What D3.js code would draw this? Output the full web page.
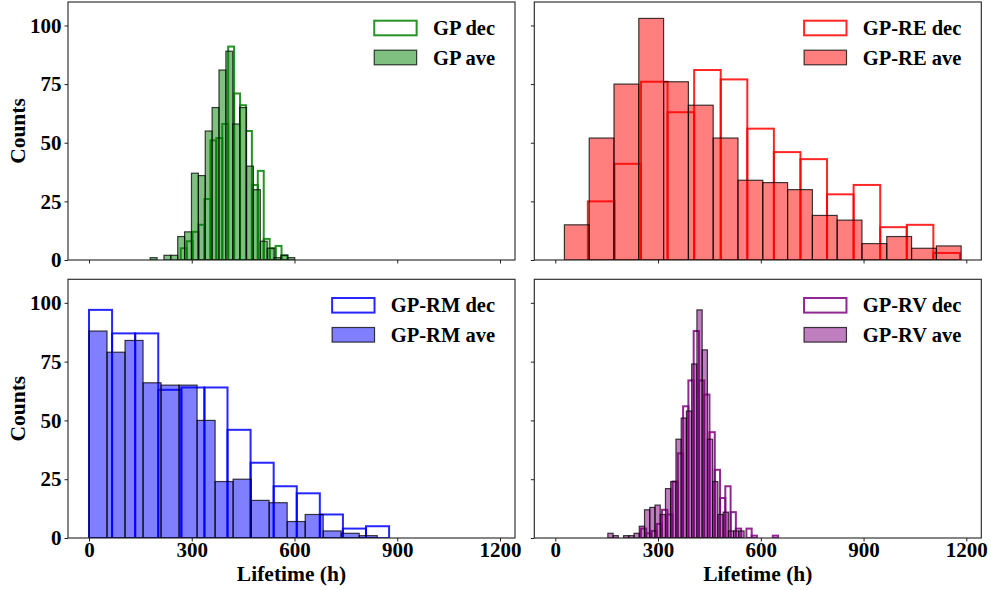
<!DOCTYPE html>
<html><head><meta charset="utf-8">
<script src="https://cdn.jsdelivr.net/npm/d3@7"></script>
<style>
body{margin:0;background:#fff}
svg{display:block}
text{font-family:"Liberation Serif","Times New Roman",serif;font-weight:bold;fill:#000}
</style>
</head><body>
<svg id="c" width="991" height="590"></svg>
<script>
// ---- data ----
const xTicks = [0, 300, 600, 900, 1200];
const yTicks = [0, 25, 50, 75, 100];
const xDomain = [-61.3, 1243.8];
const yDomain = [0, 110];

const gpDecCounts = [5, 8, 12, 15, 26, 51, 52, 58, 91, 71, 66, 55, 32, 38, 9, 5, 6, 2];
const gpAveCounts = [1, 0, 2, 2, 10, 12, 37, 36, 55, 65, 81, 89, 58, 65, 40, 30, 8, 5, 1, 2, 1];
const reDecCounts = [25, 41, 76, 63, 81, 77, 56, 46, 43, 28, 32, 14, 15, 3];
const reAveCounts = [15, 52, 75, 103, 76, 66, 52, 34, 33, 30, 19, 17, 7, 10, 5, 6];
const rmDecCounts = [97, 87, 87, 63, 64, 64, 46, 32, 22, 19, 10, 4, 5];
const rmAveCounts = [88, 79, 84, 66, 65, 65, 50, 24, 25, 16, 15, 7, 10, 3, 2, 1];
const rvDecCounts = [4, 2, 3, 6, 12, 10, 24, 36, 56, 67, 88, 67, 61, 45, 29, 17, 22, 11, 4, 0, 4, 1, 0, 0, 0, 1];
const rvAveCounts = [2, 1, 0, 1, 1, 2, 5, 12, 13, 14, 10, 21, 24, 42, 51, 54, 74, 97, 80, 42, 24, 10, 11, 3, 3, 3];

// bin layout in hours: [first edge, bin width]
const gpDecBins = [268, 17.3];
const gpAveBins = [178.6, 20.1];
const reDecBins = [95, 77.6];
const reAveBins = [26.6, 72.4];
const rmDecBins = [0, 67.4];
const rmAveBins = [0, 52.6];
const rvDecBins = [250, 15.4];
const rvAveBins = [153.4, 15.3];

const seriesLabels = [["GP dec", "GP ave"], ["GP-RE dec", "GP-RE ave"], ["GP-RM dec", "GP-RM ave"], ["GP-RV dec", "GP-RV ave"]];
const seriesColors = ["green", "red", "blue", "purple"];

// ---- layout ----
const boxes = [
  {x0: 68, x1: 515, y0: 2, y1: 260, row: 0, col: 0},
  {x0: 534.3, x1: 981.3, y0: 2, y1: 260, row: 0, col: 1},
  {x0: 68, x1: 515, y0: 279.3, y1: 538, row: 1, col: 0},
  {x0: 534.3, x1: 981.3, y0: 279.3, y1: 538, row: 1, col: 1}
];
const panelData = [
  {dec: gpDecCounts, decBins: gpDecBins, ave: gpAveCounts, aveBins: gpAveBins},
  {dec: reDecCounts, decBins: reDecBins, ave: reAveCounts, aveBins: reAveBins},
  {dec: rmDecCounts, decBins: rmDecBins, ave: rmAveCounts, aveBins: rmAveBins},
  {dec: rvDecCounts, decBins: rvDecBins, ave: rvAveCounts, aveBins: rvAveBins}
];

const svg = d3.select("#c");

function toBins(counts, bins) {
  return counts.map((c, i) => ({x0: bins[0] + i * bins[1], x1: bins[0] + (i + 1) * bins[1], c}));
}

boxes.forEach((b, i) => {
  const pd = panelData[i];
  const color = seriesColors[i];
  const x = d3.scaleLinear().domain(xDomain).range([b.x0, b.x1]);
  const y = d3.scaleLinear().domain(yDomain).range([b.y1, b.y0]);
  const g = svg.append("g");

  const clipId = "clip" + i;
  svg.append("clipPath").attr("id", clipId).append("rect")
    .attr("x", b.x0).attr("y", b.y0).attr("width", b.x1 - b.x0).attr("height", b.y1 - b.y0);
  const plot = g.append("g").attr("clip-path", `url(#${clipId})`);

  // dec: outline bars
  plot.append("g").selectAll("rect").data(toBins(pd.dec, pd.decBins).filter(d => d.c > 0)).join("rect")
    .attr("x", d => x(d.x0)).attr("width", d => x(d.x1) - x(d.x0))
    .attr("y", d => y(d.c)).attr("height", d => y(0) - y(d.c))
    .attr("fill", "none").attr("stroke", color).attr("stroke-width", 2).attr("stroke-opacity", 0.85);

  // ave: filled bars
  plot.append("g").selectAll("rect").data(toBins(pd.ave, pd.aveBins).filter(d => d.c > 0)).join("rect")
    .attr("x", d => x(d.x0)).attr("width", d => x(d.x1) - x(d.x0))
    .attr("y", d => y(d.c)).attr("height", d => y(0) - y(d.c))
    .attr("fill", color).attr("fill-opacity", 0.5)
    .attr("stroke", "#000").attr("stroke-width", 1.2).attr("stroke-opacity", 0.75);

  // axes
  const xAxis = d3.axisBottom(x).tickValues(xTicks).tickSize(3.5).tickPadding(0.5)
    .tickFormat(b.row === 1 ? d3.format("d") : () => "");
  const gx = g.append("g").attr("transform", `translate(0,${b.y1})`).call(xAxis);
  const yAxis = d3.axisLeft(y).tickValues(yTicks).tickSize(3.5).tickPadding(3)
    .tickFormat(b.col === 0 ? d3.format("d") : () => "");
  const gy = g.append("g").attr("transform", `translate(${b.x0},0)`).call(yAxis);
  [gx, gy].forEach(a => {
    a.select(".domain").remove();
    a.selectAll(".tick line").attr("stroke", "#222").attr("stroke-width", 1);
    a.selectAll("text").attr("font-size", 21).attr("font-family", '"Liberation Serif","Times New Roman",serif')
      .attr("font-weight", "bold").attr("fill", "#000");
  });

  // spines
  g.append("rect").attr("x", b.x0).attr("y", b.y0).attr("width", b.x1 - b.x0).attr("height", b.y1 - b.y0)
    .attr("fill", "none").attr("stroke", "#222").attr("stroke-width", 1.1);

  // legend
  const labels = seriesLabels[i];
  const lg = g.append("g");
  const txts = labels.map((t, k) => lg.append("text").attr("font-size", 20.5).text(t));
  const maxW = d3.max(txts, t => t.node().getComputedTextLength());
  const textX = b.x1 - 20 - maxW;
  const patchX1 = textX - 16.3, patchX0 = patchX1 - 42.4;
  labels.forEach((t, k) => {
    const py = b.y0 + 18.7 + k * 29.5;
    txts[k].attr("x", textX).attr("y", py + 7.3 + 7);
    if (k === 0) {
      lg.append("rect").attr("x", patchX0).attr("y", py).attr("width", 42.4).attr("height", 14.6)
        .attr("fill", "#fff").attr("stroke", color).attr("stroke-width", 2).attr("stroke-opacity", 0.85);
    } else {
      lg.append("rect").attr("x", patchX0).attr("y", py).attr("width", 42.4).attr("height", 14.6)
        .attr("fill", color).attr("fill-opacity", 0.5)
        .attr("stroke", "#000").attr("stroke-width", 1.2).attr("stroke-opacity", 0.75);
    }
  });

  // axis labels
  if (b.col === 0) {
    svg.append("text").attr("transform", `translate(24.5,${(b.y0 + b.y1) / 2}) rotate(-90)`)
      .attr("text-anchor", "middle").attr("font-size", 21.5).text("Counts");
  }
  if (b.row === 1) {
    svg.append("text").attr("x", (b.x0 + b.x1) / 2).attr("y", 581)
      .attr("text-anchor", "middle").attr("font-size", 21.5).text("Lifetime (h)");
  }
});
</script>
</body></html>
